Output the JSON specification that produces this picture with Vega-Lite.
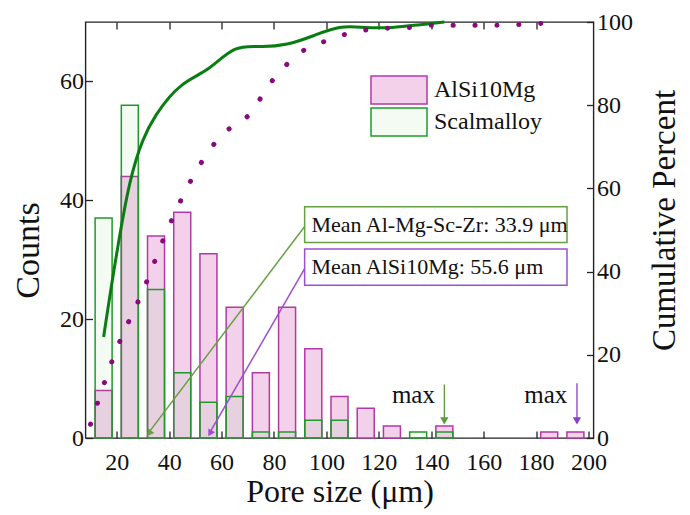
{
  "$schema": "https://vega.github.io/schema/vega-lite/v6.json",
  "width": 508,
  "height": 416,
  "autosize": {"type": "none"},
  "padding": {"left": 85.5, "top": 22, "right": 96.5, "bottom": 77},
  "background": "white",
  "config": {
    "view": {"stroke": "#222", "strokeWidth": 1.4},
    "font": "Liberation Serif",
    "axis": {
      "labelFont": "Liberation Serif", "titleFont": "Liberation Serif",
      "labelFontSize": 24, "titleFontSize": 32, "titleFontWeight": "normal",
      "labelColor": "#111", "titleColor": "#111", "tickColor": "#222",
      "domain": false, "grid": false, "tickSize": -7, "tickWidth": 1.3
    }
  },
  "resolve": {"scale": {"y": "independent"}},
  "layer": [
    {
      "encoding": {
        "x": {"field": "size", "type": "quantitative", "scale": {"domain": [10, 200], "nice": false, "zero": false},
              "axis": {"orient": "bottom", "values": [20, 40, 60, 80, 100, 120, 140, 160, 180, 200], "title": "Pore size (μm)", "labelPadding": 19, "titlePadding": 2}},
        "y": {"field": "count", "type": "quantitative", "stack": null, "scale": {"domain": [0, 70], "nice": false},
              "axis": {"orient": "left", "values": [0, 20, 40, 60], "title": "Counts", "titleFontSize": 34, "titleY": 228, "labelPadding": 9, "titlePadding": 14}}
      },
      "layer": [
        {
          "data": {"values": [
            {"size": 15, "count": 8, "alloy": "AlSi10Mg"},
            {"size": 25, "count": 44, "alloy": "AlSi10Mg"},
            {"size": 35, "count": 34, "alloy": "AlSi10Mg"},
            {"size": 45, "count": 38, "alloy": "AlSi10Mg"},
            {"size": 55, "count": 31, "alloy": "AlSi10Mg"},
            {"size": 65, "count": 22, "alloy": "AlSi10Mg"},
            {"size": 75, "count": 11, "alloy": "AlSi10Mg"},
            {"size": 85, "count": 22, "alloy": "AlSi10Mg"},
            {"size": 95, "count": 15, "alloy": "AlSi10Mg"},
            {"size": 105, "count": 7, "alloy": "AlSi10Mg"},
            {"size": 115, "count": 5, "alloy": "AlSi10Mg"},
            {"size": 125, "count": 2, "alloy": "AlSi10Mg"},
            {"size": 145, "count": 2, "alloy": "AlSi10Mg"},
            {"size": 185, "count": 1, "alloy": "AlSi10Mg"},
            {"size": 195, "count": 1, "alloy": "AlSi10Mg"},
            {"size": 15, "count": 37, "alloy": "Scalmalloy"},
            {"size": 25, "count": 56, "alloy": "Scalmalloy"},
            {"size": 35, "count": 25, "alloy": "Scalmalloy"},
            {"size": 45, "count": 11, "alloy": "Scalmalloy"},
            {"size": 55, "count": 6, "alloy": "Scalmalloy"},
            {"size": 65, "count": 7, "alloy": "Scalmalloy"},
            {"size": 75, "count": 1, "alloy": "Scalmalloy"},
            {"size": 85, "count": 1, "alloy": "Scalmalloy"},
            {"size": 95, "count": 3, "alloy": "Scalmalloy"},
            {"size": 105, "count": 3, "alloy": "Scalmalloy"},
            {"size": 135, "count": 1, "alloy": "Scalmalloy"},
            {"size": 145, "count": 1, "alloy": "Scalmalloy"}
          ]},
          "mark": {"type": "bar", "width": 17, "strokeWidth": 1.5, "fillOpacity": 1},
          "encoding": {
            "fill": {"field": "alloy", "type": "nominal",
                     "scale": {"domain": ["AlSi10Mg", "Scalmalloy"], "range": ["#f3d1ea", "rgba(90,200,90,0.07)"]},
                     "legend": {"title": null, "orient": "none", "legendX": 298.5, "legendY": 53, "padding": 0,
                                "symbolType": "M-2,-1H2V1H-2Z", "symbolSize": 784, "symbolStrokeWidth": 1.5, "symbolOpacity": 1,
                                "labelFont": "Liberation Serif", "labelFontSize": 24, "labelColor": "#111",
                                "labelOffset": 20, "rowPadding": -3}},
            "stroke": {"field": "alloy", "type": "nominal",
                       "scale": {"domain": ["AlSi10Mg", "Scalmalloy"], "range": ["#b23aa5", "#1f9a2a"]},
                       "legend": {"title": null, "orient": "none", "legendX": 298.5, "legendY": 53, "padding": 0,
                                  "symbolType": "M-2,-1H2V1H-2Z", "symbolSize": 784, "symbolStrokeWidth": 1.5, "symbolOpacity": 1,
                                  "labelFont": "Liberation Serif", "labelFontSize": 24, "labelColor": "#111",
                                  "labelOffset": 20, "rowPadding": -3}}
          }
        },
        {
          "data": {"values": [{"size": 91.7, "size2": 191.8, "count": 32.9, "count2": 38.9}]},
          "mark": {"type": "rect", "fill": "white", "stroke": "#66a043", "strokeWidth": 1.5},
          "encoding": {"x2": {"field": "size2"}, "y2": {"field": "count2"}}
        },
        {
          "data": {"values": [{"size": 91.7, "size2": 191.8, "count": 25.7, "count2": 31.8}]},
          "mark": {"type": "rect", "fill": "white", "stroke": "#9b50d0", "strokeWidth": 1.5},
          "encoding": {"x2": {"field": "size2"}, "y2": {"field": "count2"}}
        },
        {
          "data": {"values": [
            {"size": 94.3, "count": 35.9, "label": "Mean Al-Mg-Sc-Zr:  33.9 μm"},
            {"size": 94.3, "count": 28.75, "label": "Mean AlSi10Mg: 55.6 μm"}
          ]},
          "mark": {"type": "text", "align": "left", "baseline": "middle", "font": "Liberation Serif", "fontSize": 22, "color": "#111"},
          "encoding": {"text": {"field": "label"}}
        },
        {
          "data": {"values": [{"size": 91.7, "count": 35.6, "size2": 32.2, "count2": 0.9}]},
          "mark": {"type": "rule", "stroke": "#66a043", "strokeWidth": 1.5},
          "encoding": {"x2": {"field": "size2"}, "y2": {"field": "count2"}}
        },
        {
          "data": {"values": [{"size": 32.4, "count": 0.8}]},
          "mark": {"type": "point", "shape": "triangle-up", "angle": 217, "filled": true, "color": "#66a043", "size": 60, "opacity": 1}
        },
        {
          "data": {"values": [{"size": 91.7, "count": 28.5, "size2": 55.5, "count2": 0.9}]},
          "mark": {"type": "rule", "stroke": "#9b50d0", "strokeWidth": 1.5},
          "encoding": {"x2": {"field": "size2"}, "y2": {"field": "count2"}}
        },
        {
          "data": {"values": [{"size": 55.6, "count": 0.8}]},
          "mark": {"type": "point", "shape": "triangle-up", "angle": 210, "filled": true, "color": "#9b50d0", "size": 60, "opacity": 1}
        },
        {
          "data": {"values": [{"size": 145, "count": 9.0, "count2": 3.2}]},
          "mark": {"type": "rule", "stroke": "#5c9a3c", "strokeWidth": 1.3},
          "encoding": {"y2": {"field": "count2"}}
        },
        {
          "data": {"values": [{"size": 145, "count": 2.9}]},
          "mark": {"type": "point", "shape": "triangle-down", "filled": true, "color": "#5c9a3c", "size": 70, "opacity": 1}
        },
        {
          "data": {"values": [{"size": 195.6, "count": 9.2, "count2": 3.2}]},
          "mark": {"type": "rule", "stroke": "#8a3fc8", "strokeWidth": 1.3},
          "encoding": {"y2": {"field": "count2"}}
        },
        {
          "data": {"values": [{"size": 195.6, "count": 2.9}]},
          "mark": {"type": "point", "shape": "triangle-down", "filled": true, "color": "#8a3fc8", "size": 70, "opacity": 1}
        },
        {
          "data": {"values": [
            {"size": 133.2, "count": 5.9, "label": "max"},
            {"size": 183.7, "count": 5.9, "label": "max"}
          ]},
          "mark": {"type": "text", "align": "center", "baseline": "alphabetic", "font": "Liberation Serif", "fontSize": 25, "color": "#111"},
          "encoding": {"text": {"field": "label"}}
        }
      ]
    },
    {
      "encoding": {
        "x": {"field": "size", "type": "quantitative", "scale": {"domain": [10, 200], "nice": false, "zero": false},
              "axis": {"orient": "top", "values": [20, 40, 60, 80, 100, 120, 140, 160, 180], "labels": false, "title": null}},
        "y": {"field": "pct", "type": "quantitative", "scale": {"domain": [0, 100], "nice": false},
              "axis": {"orient": "right", "values": [0, 20, 40, 60, 80, 100], "title": "Cumulative Percent", "titleFontSize": 33, "titleAngle": 270, "titleBaseline": "top", "titleY": 198, "labelPadding": 10, "titlePadding": 16}}
      },
      "layer": [
        {
          "data": {"values": [
            {"size": 15, "pct": 24.3}, {"size": 25, "pct": 61.2}, {"size": 35, "pct": 77.6},
            {"size": 45, "pct": 84.9}, {"size": 55, "pct": 88.8}, {"size": 65, "pct": 93.4},
            {"size": 75, "pct": 94.1}, {"size": 85, "pct": 94.7}, {"size": 95, "pct": 96.7},
            {"size": 105, "pct": 98.7}, {"size": 115, "pct": 98.7}, {"size": 125, "pct": 98.7},
            {"size": 135, "pct": 99.3}, {"size": 145, "pct": 100}
          ]},
          "mark": {"type": "line", "interpolate": "natural", "stroke": "#0a7d12", "strokeWidth": 3}
        },
        {
          "data": {"values": [
            {"size": 10, "pct": 3.3}, {"size": 20, "pct": 21.4}, {"size": 30, "pct": 35.4},
            {"size": 40, "pct": 51.0}, {"size": 50, "pct": 63.8}, {"size": 60, "pct": 72.8},
            {"size": 70, "pct": 77.4}, {"size": 80, "pct": 86.4}, {"size": 90, "pct": 92.6},
            {"size": 100, "pct": 95.5}, {"size": 110, "pct": 97.5}, {"size": 120, "pct": 98.4},
            {"size": 130, "pct": 98.6}, {"size": 140, "pct": 99.2}, {"size": 150, "pct": 99.2},
            {"size": 160, "pct": 99.2}, {"size": 170, "pct": 99.3}, {"size": 180, "pct": 99.6},
            {"size": 190, "pct": 100}
          ]},
          "mark": {"type": "line", "interpolate": "monotone", "stroke": "#8a0a7e", "strokeWidth": 5, "strokeDash": [0.1, 21.8], "strokeCap": "round"}
        }
      ]
    }
  ]
}
